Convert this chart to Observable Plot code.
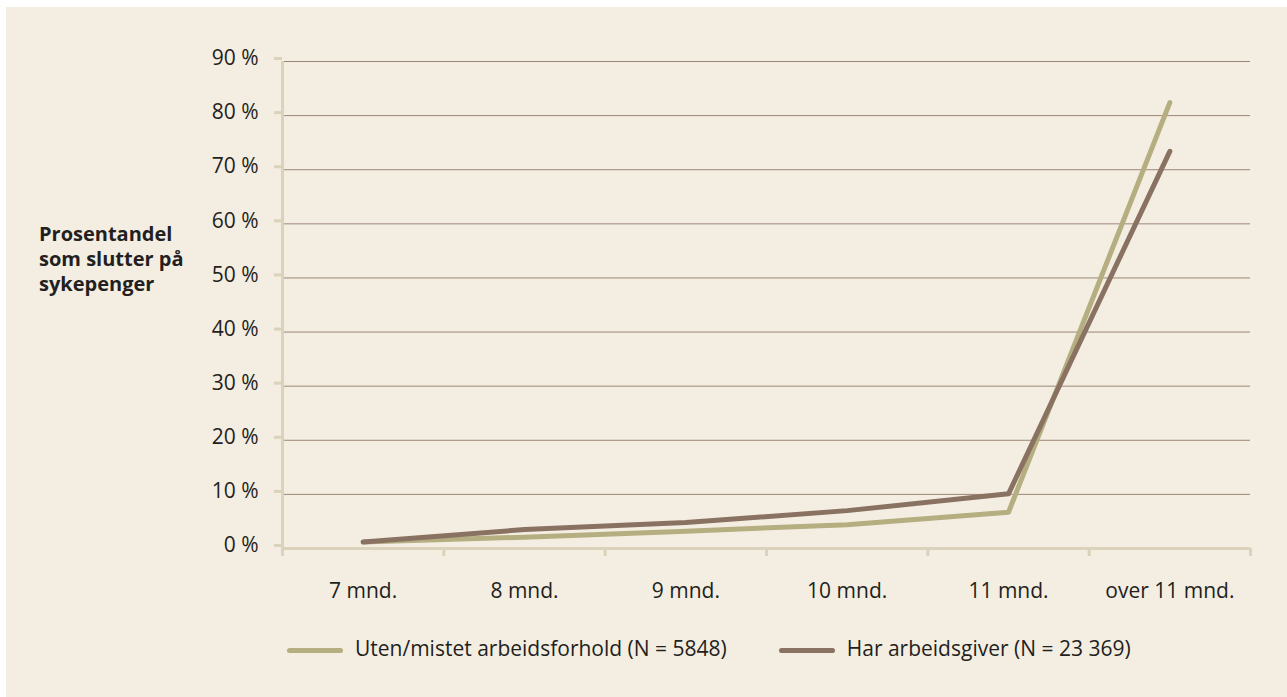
<!DOCTYPE html>
<html>
<head>
<meta charset="utf-8">
<script src="https://cdn.jsdelivr.net/npm/d3@7"></script>
<script src="https://cdn.jsdelivr.net/npm/@observablehq/plot@0.6"></script>
<style>
  body { margin: 0; background: #ffffff; font-family: "Open Sans", sans-serif; color: #231f20; }
  #bg { position: absolute; left: 6px; top: 7px; width: 1281px; height: 690px; background: #f4eee2; }
  #chart { position: absolute; left: 0; top: 0; }
  #ylabel { position: absolute; left: 39px; top: 221px; font-weight: bold; font-size: 20px; line-height: 25px; color: #231f20; white-space: nowrap; }
  #legend { position: absolute; left: 287px; top: 634px; display: flex; align-items: flex-start; font-size: 21px; line-height: normal; white-space: nowrap; }
  #legend .sw { display: inline-block; width: 56px; height: 5px; border-radius: 3px; margin-top: 14px; margin-right: 12px; }
</style>
</head>
<body>
<div id="bg"></div>
<div id="chart"></div>
<div id="ylabel"></div>
<div id="legend"></div>
<script>
const categories = ["7 mnd.", "8 mnd.", "9 mnd.", "10 mnd.", "11 mnd.", "over 11 mnd."];
const utenValues = [1.2, 2.1, 3.2, 4.4, 6.7, 82.4];
const harValues = [1.2, 3.5, 4.8, 7.0, 10.1, 73.4];
const seriesNames = ["Uten/mistet arbeidsforhold (N = 5848)", "Har arbeidsgiver (N = 23 369)"];
const seriesColors = ["#b5ae80", "#8a7262"];
const yTicks = [0, 10, 20, 30, 40, 50, 60, 70, 80, 90];
const yLabelLines = ["Prosentandel", "som slutter på", "sykepenger"];

const data = [];
categories.forEach((c, i) => {
  data.push({cat: c, idx: i, series: seriesNames[0], v: utenValues[i]});
});
categories.forEach((c, i) => {
  data.push({cat: c, idx: i, series: seriesNames[1], v: harValues[i]});
});
const boundaries = d3.range(categories.length + 1).map(i => i - 0.5);
const axisColor = "#dbd2bc";

const chart = Plot.plot({
  width: 1287,
  height: 620,
  marginLeft: 282,
  marginRight: 37,
  marginTop: 61,
  marginBottom: 72,
  style: {background: "transparent", fontFamily: "'Open Sans', sans-serif", fontSize: "21px", color: "#231f20", overflow: "visible"},
  x: {type: "linear", domain: [-0.5, categories.length - 0.5], label: null},
  y: {domain: [0, 90], label: null},
  color: {domain: seriesNames, range: seriesColors},
  marks: [
    Plot.gridY(yTicks.filter(t => t > 0), {stroke: "#9a8676", strokeOpacity: 1, strokeWidth: 1}),
    Plot.axisY(yTicks, {label: null, tickSize: 8, tickPadding: 16, stroke: axisColor, strokeWidth: 3, fill: "#231f20", tickFormat: d => d + " %", fontSize: 21, dy: -3}),
    Plot.axisX(boundaries, {label: null, tickSize: 8, stroke: axisColor, strokeWidth: 3, tickFormat: () => ""}),
    Plot.axisX(d3.range(categories.length), {label: null, tickSize: 0, tickPadding: 35, tickFormat: i => categories[i], fill: "#231f20", fontSize: 21}),
    Plot.ruleY([0], {stroke: axisColor, strokeWidth: 3}),
    Plot.ruleX([-0.5], {y1: 0, y2: 90, stroke: axisColor, strokeWidth: 3}),
    Plot.line(data, {x: "idx", y: "v", z: "series", stroke: "series", strokeWidth: 5, strokeLinecap: "round", strokeLinejoin: "round"})
  ]
});
document.getElementById("chart").appendChild(chart);

document.getElementById("ylabel").innerHTML = yLabelLines.join("<br>");

const legend = document.getElementById("legend");
seriesNames.forEach((name, i) => {
  const sw = document.createElement("span");
  sw.className = "sw";
  sw.style.background = seriesColors[i];
  if (i > 0) sw.style.marginLeft = "52px";
  const tx = document.createElement("span");
  tx.textContent = name;
  legend.appendChild(sw);
  legend.appendChild(tx);
});
</script>
</body>
</html>
